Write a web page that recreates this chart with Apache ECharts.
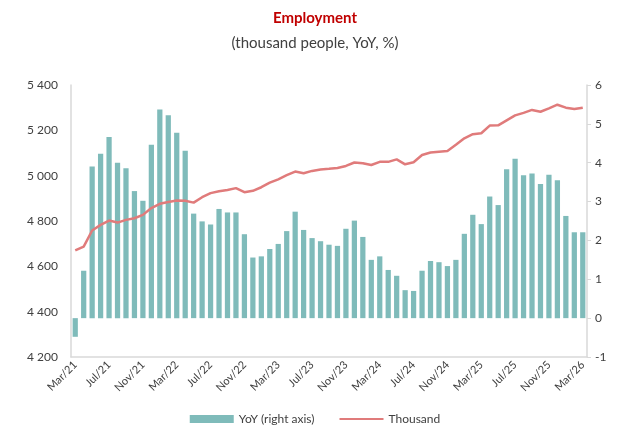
<!DOCTYPE html>
<html>
<head>
<meta charset="utf-8">
<script src="https://cdn.jsdelivr.net/npm/echarts@6/dist/echarts.min.js"></script>
<style>
  html, body { margin: 0; padding: 0; background: #fff; }
  #chart { width: 630px; height: 437px; }
</style>
</head>
<body>
<div id="chart"></div>
<script>
// monthly, Mar/21 .. Mar/26
const monthNames = ['Jan', 'Feb', 'Mar', 'Apr', 'May', 'Jun', 'Jul', 'Aug', 'Sep', 'Oct', 'Nov', 'Dec'];
const categories = [];
for (let k = 0; k < 61; k++) {
    const m = (2 + k) % 12;
    const y = 21 + Math.floor((2 + k) / 12);
    categories.push(monthNames[m] + '/' + y);
}

// YoY, % (right axis)
const yoy = [
    -0.48, 1.22, 3.90, 4.23, 4.66, 4.00, 3.86, 3.27, 3.02, 4.46,
    5.37, 5.22, 4.77, 4.31, 2.69, 2.49, 2.41, 2.81, 2.72, 2.72,
    2.16, 1.56, 1.59, 1.78, 1.91, 2.24, 2.74, 2.27, 2.06, 1.98,
    1.89, 1.86, 2.30, 2.51, 2.09, 1.50, 1.59, 1.24, 1.09, 0.72,
    0.70, 1.22, 1.47, 1.44, 1.34, 1.50, 2.17, 2.66, 2.42, 3.13,
    2.91, 3.83, 4.10, 3.68, 3.72, 3.45, 3.69, 3.55, 2.63, 2.21,
    2.21
];

// thousand people (left axis)
const thousand = [
    4670, 4687, 4758, 4783, 4802, 4793, 4805, 4812, 4827, 4857,
    4876, 4884, 4890, 4889, 4881, 4905, 4923, 4931, 4937, 4945,
    4927, 4933, 4949, 4969, 4984, 5002, 5018, 5011, 5021, 5027,
    5030, 5034, 5043, 5058, 5055, 5047, 5061, 5061, 5072, 5050,
    5059, 5091, 5102, 5106, 5109, 5136, 5165, 5183, 5187, 5221,
    5222, 5244, 5266, 5277, 5290, 5282, 5297, 5313, 5300, 5294,
    5300
];

const font = 'Lato, "Open Sans", sans-serif';
const textColor = '#404040';
const axisColor = '#d9d9d9';

const chart = echarts.init(document.getElementById('chart'));

chart.setOption({
    backgroundColor: '#fff',
    animation: false,
    textStyle: { fontFamily: font },
    title: {
        text: 'Employment',
        subtext: '(thousand people, YoY, %)',
        left: 'center',
        top: 6,
        itemGap: 10,
        textStyle: { fontFamily: font, fontSize: 15, fontWeight: 'bold', color: '#c00000' },
        subtextStyle: { fontFamily: font, fontSize: 15, color: textColor }
    },
    legend: {
        bottom: 7,
        left: 'center',
        itemGap: 24,
        itemWidth: 44,
        itemHeight: 8,
        textStyle: { fontFamily: font, fontSize: 12, color: textColor },
        data: [
            { name: 'YoY (right axis)', icon: 'rect' },
            // line only, no marker in the legend
            { name: 'Thousand', itemStyle: { opacity: 0 } }
        ]
    },
    grid: { left: 71, right: 43, top: 85, bottom: 80 },
    xAxis: {
        type: 'category',
        data: categories,
        boundaryGap: true,
        axisLine: { onZero: false, lineStyle: { color: axisColor, width: 1.5 } },
        axisTick: { show: false },
        axisLabel: {
            interval: 3,
            rotate: 45,
            fontSize: 11,
            color: textColor,
            margin: 6
        }
    },
    yAxis: [
        {
            type: 'value',
            min: 4200,
            max: 5400,
            interval: 200,
            splitLine: { show: false },
            axisLine: { show: true, lineStyle: { color: axisColor, width: 1.5 } },
            axisTick: { show: false },
            axisLabel: {
                fontSize: 12,
                color: textColor,
                margin: 13,
                formatter: v => String(v).replace(/\B(?=(\d{3})+(?!\d))/g, ' ')
            }
        },
        {
            type: 'value',
            min: -1,
            max: 6,
            interval: 1,
            splitLine: { show: false },
            axisLine: { show: true, lineStyle: { color: axisColor, width: 1.5 } },
            axisTick: { show: true, length: 4, lineStyle: { color: axisColor } },
            axisLabel: { fontSize: 12, color: textColor, margin: 8 }
        }
    ],
    series: [
        {
            name: 'YoY (right axis)',
            type: 'bar',
            yAxisIndex: 1,
            data: yoy,
            barCategoryGap: '38%',
            itemStyle: { color: '#7fbbba' }
        },
        {
            name: 'Thousand',
            type: 'line',
            yAxisIndex: 0,
            data: thousand,
            symbol: 'none',
            lineStyle: { color: '#e07b7b', width: 2.5 },
            itemStyle: { color: '#e07b7b' }
        }
    ]
});
</script>
</body>
</html>
